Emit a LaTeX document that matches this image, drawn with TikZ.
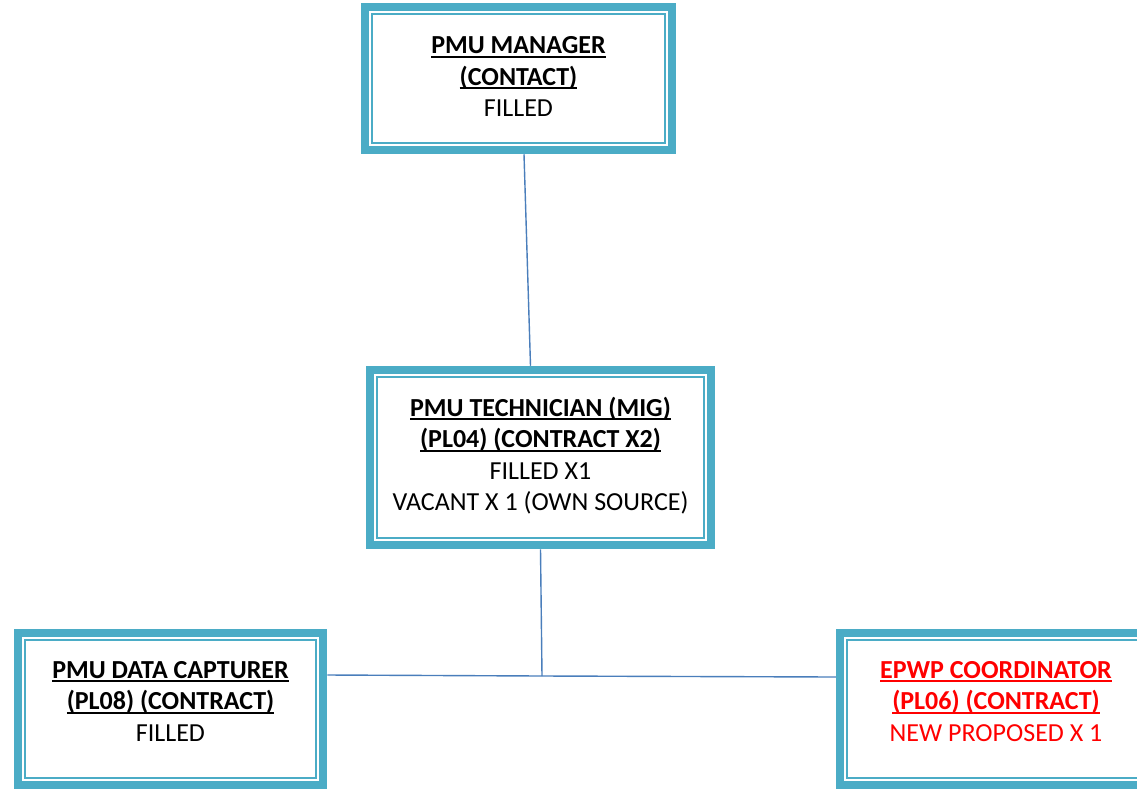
\documentclass[tikz,border=0pt]{standalone}
\usepackage{fontspec}
\setmainfont{Carlito}
\usetikzlibrary{fit}

\definecolor{boxteal}{HTML}{4BACC6}
\definecolor{linkblue}{HTML}{4A7EBB}
\newsavebox{\titlebox}
\newcommand{\posttitle}[1]{\textbf{\sbox{\titlebox}{#1}\rlap{\rule[-4pt]{\wd\titlebox}{1.9pt}}\usebox{\titlebox}}}

\begin{document}
\begin{tikzpicture}[x=1pt,y=-1pt,
  post/.style={draw=boxteal, line width=1.5pt, align=center, inner sep=0pt,
    text depth=0pt, font=\fontsize{26}{31.5}\selectfont},
  outerframe/.style={draw=boxteal, line width=8pt, inner sep=6.5pt},
  link/.style={draw=linkblue, line width=1.4pt}]

\useasboundingbox (0,0) rectangle (1137,790);
\clip (0,0) rectangle (1137,790);

\node[post, minimum width=293, minimum height=129, text height=76pt] (mgr) at (518.5,78.5)
  {\posttitle{PMU MANAGER}\\ \posttitle{(CONTACT)}\\ FILLED};
\node[outerframe, fit=(mgr)] (mgrf) {};

\node[post, minimum width=327, minimum height=161, text height=106pt] (tech) at (540.5,457.5)
  {\posttitle{PMU TECHNICIAN (MIG)}\\ \posttitle{(PL04) (CONTRACT X2)}\\ FILLED X1\\ VACANT X 1 (OWN SOURCE)};
\node[outerframe, fit=(tech)] (techf) {};

\node[post, minimum width=291, minimum height=138, text height=75pt, text depth=11pt] (cap) at (170.5,709)
  {\posttitle{PMU DATA CAPTURER}\\ \posttitle{(PL08) (CONTRACT)}\\ FILLED};
\node[outerframe, fit=(cap)] (capf) {};

\node[post, minimum width=298, minimum height=138, text height=75pt, text depth=11pt, text=red] (epwp) at (996,709)
  {\posttitle{EPWP COORDINATOR}\\ \posttitle{(PL06) (CONTRACT)}\\ NEW PROPOSED X 1};
\node[outerframe, fit=(epwp)] (epwpf) {};

\coordinate (jn) at (542,676);

\draw[link] ([xshift=5.5]mgrf.south) -- ([xshift=-10]techf.north);
\draw[link] (techf.south) -- (jn);
\draw[link] ([yshift=34]capf.east) -- (jn) -- ([yshift=32]epwpf.west);

\end{tikzpicture}
\end{document}
